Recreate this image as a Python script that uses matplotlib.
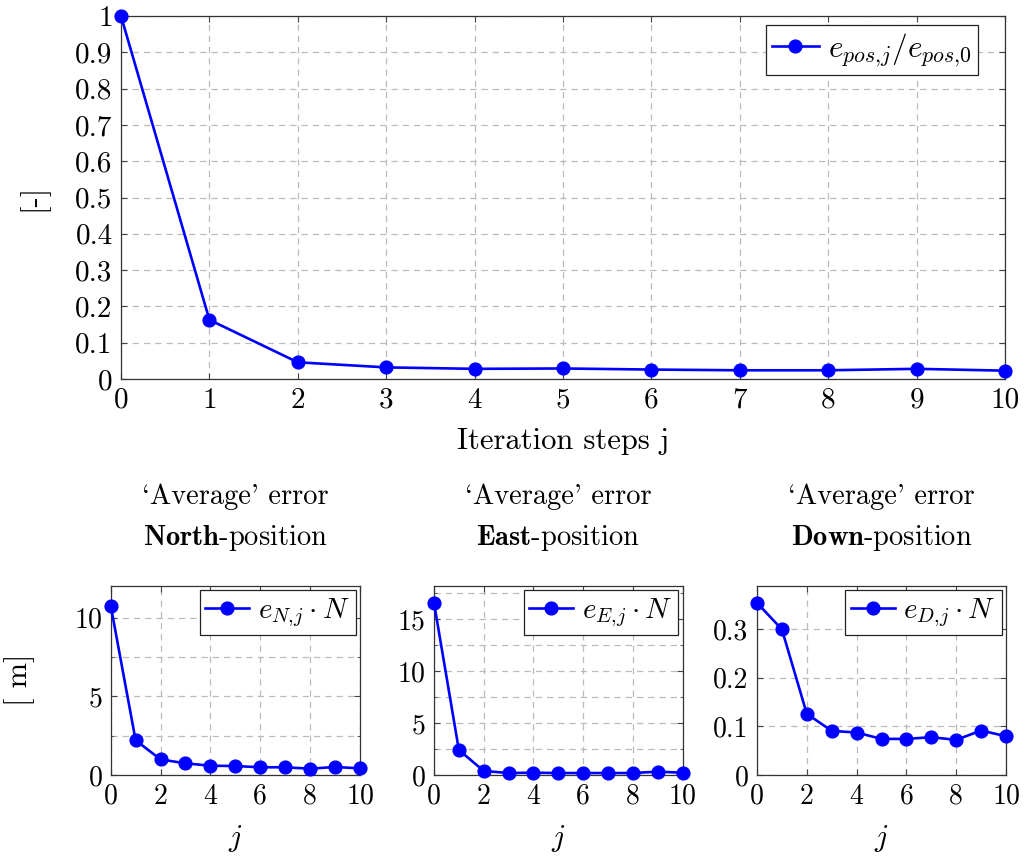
import numpy as np
import matplotlib
matplotlib.use('Agg')
import matplotlib.pyplot as plt
from matplotlib.ticker import FuncFormatter, MultipleLocator

plt.rcParams['font.family'] = ['cmr10', 'DejaVu Serif']
plt.rcParams['mathtext.fontset'] = 'cm'
plt.rcParams['axes.formatter.use_mathtext'] = True
plt.rcParams['axes.unicode_minus'] = False

# data
steps = [0, 1, 2, 3, 4, 5, 6, 7, 8, 9, 10]
e_pos = [1.0, 0.163, 0.046, 0.032, 0.028, 0.029, 0.026, 0.024, 0.024, 0.028, 0.023]
e_north = [10.76, 2.2, 0.99, 0.74, 0.59, 0.57, 0.49, 0.49, 0.40, 0.51, 0.42]
e_east = [16.58, 2.41, 0.39, 0.19, 0.22, 0.19, 0.19, 0.19, 0.19, 0.32, 0.22]
e_down = [0.3535, 0.299, 0.1256, 0.0906, 0.0872, 0.0741, 0.0741, 0.0776, 0.0721, 0.0913, 0.0796]

blue = '#0000ff'
W, H = 1026, 857
fmt = FuncFormatter(lambda v, p: '%g' % round(v, 6))

def style(ax, fs):
    ax.grid(True, which='both', linestyle=(0, (5, 4)), color='#bbbbbb', linewidth=0.9)
    ax.set_axisbelow(True)
    ax.tick_params(direction='in', top=True, right=True, labelsize=fs, length=4,
                   width=0.8, color='#444444', pad=6)
    ax.tick_params(which='minor', direction='in', top=True, right=True, length=2.5,
                   width=0.6, color='#444444')
    for s in ax.spines.values():
        s.set_color('#333333')
        s.set_linewidth(0.9)
    ax.yaxis.set_major_formatter(fmt)
    ax.xaxis.set_major_formatter(fmt)

def px_axes(fig, l, t, r, b):
    return fig.add_axes([l / W, 1 - b / H, (r - l) / W, (b - t) / H])

fig = plt.figure(figsize=(W / 100, H / 100), dpi=100)

# top plot
ax = px_axes(fig, 121, 16, 1005, 379)
ax.plot(steps, e_pos, color=blue, marker='o', markersize=9.2, linewidth=1.9,
        clip_on=False, zorder=5, label=r'$e_{pos{,}j}/e_{pos{,}0}$')
ax.set_xlim(0, 10)
ax.set_ylim(0, 1)
ax.set_xticks(range(0, 11))
ax.set_yticks(np.arange(0, 1.01, 0.1))
style(ax, 21)
leg = ax.legend(loc='upper right', fontsize=22.5, fancybox=False, framealpha=1,
                edgecolor='#222222', handlelength=1.5, borderaxespad=0.3,
                borderpad=0.2, handletextpad=0.3, bbox_to_anchor=(0.98, 1.0))
leg.get_frame().set_linewidth(0.9)
fig.text(563 / W, 1 - 441 / H, 'Iteration steps j', fontsize=22, ha='center', va='center')
fig.text(33 / W, 1 - 197 / H, '[-]', fontsize=22, ha='center', va='center', rotation=90)

# bottom plots
panels = [
    (110.7, 360, e_north, r'$e_{N{,}j}\cdot N$', 12, 5, 2.5, 'North'),
    (434, 682.7, e_east, r'$e_{E{,}j}\cdot N$', 18.2, 5, 2.5, 'East'),
    (757, 1006, e_down, r'$e_{D{,}j}\cdot N$', 0.388, 0.1, None, 'Down'),
]
for l, r, vals, lab, ymax, major, minor, name in panels:
    a = px_axes(fig, l, 586, r, 775)
    a.plot(steps, vals, color=blue, marker='o', markersize=9.2, linewidth=1.9,
           clip_on=False, zorder=5, label=lab)
    a.set_xlim(0, 10)
    a.set_ylim(0, ymax)
    a.set_xticks(range(0, 11, 2))
    a.yaxis.set_major_locator(MultipleLocator(major))
    if minor:
        a.yaxis.set_minor_locator(MultipleLocator(minor))
    style(a, 20)
    lg = a.legend(loc='upper right', fontsize=21, fancybox=False, framealpha=1,
                  edgecolor='#222222', handlelength=1.5, borderaxespad=0.15,
                  borderpad=0.2, handletextpad=0.3)
    lg.get_frame().set_linewidth(0.9)
    cx = (l + r) / 2
    fig.text(cx / W, 1 - 838 / H, '$j$', fontsize=22, ha='center', va='center')
    fig.text(cx / W, 1 - 497 / H, "`Average' error", fontsize=20.5, ha='center', va='center')
    fig.text(cx / W, 1 - 538 / H, r'$\mathbf{%s}$-position' % name, fontsize=20.5,
             ha='center', va='center')

fig.text(20 / W, 1 - 680 / H, '[ m]', fontsize=22, ha='center', va='center', rotation=90)

fig.savefig('out.png', dpi=100)
